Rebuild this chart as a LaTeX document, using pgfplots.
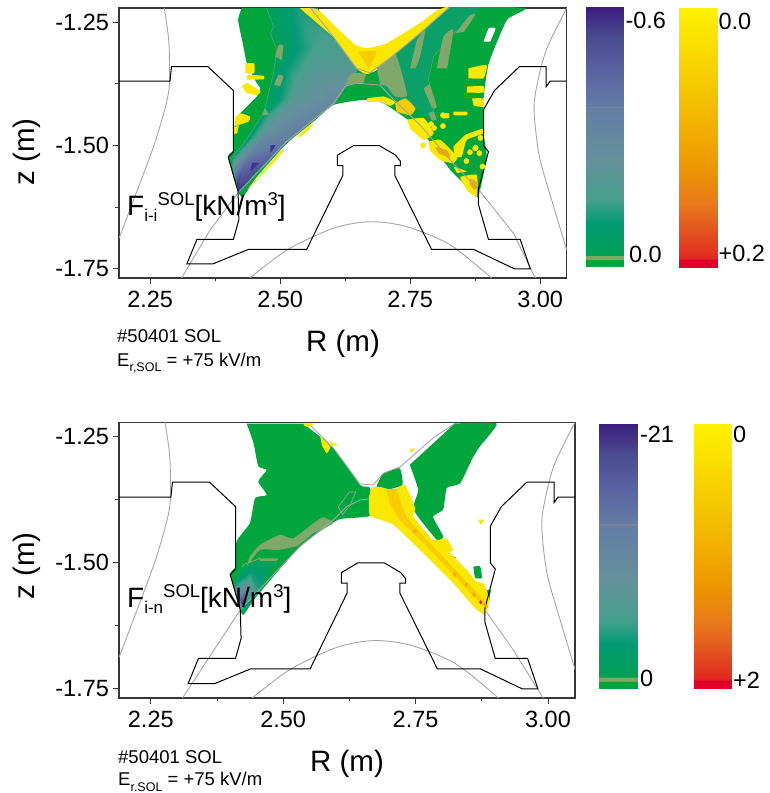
\documentclass[border=0pt]{standalone}
\usepackage{fontspec}
\setmainfont{Liberation Sans}
\usepackage{pgfplots}
\usepackage{pgfplotstable}
\pgfplotsset{compat=1.18}
\definecolor{gr}{RGB}{0,166,60}
\definecolor{tA}{RGB}{12,160,105}
\definecolor{tF}{RGB}{63,55,142}
\definecolor{ol}{RGB}{127,168,106}
\definecolor{ye}{RGB}{250,232,0}
\definecolor{yo}{RGB}{247,205,0}
\definecolor{og}{RGB}{243,170,0}
\definecolor{sep}{RGB}{165,165,165}
\definecolor{frm}{RGB}{55,55,55}
\definecolor{cont}{RGB}{95,165,135}
\newcommand{\poly}[2]{\addplot[fill=#1,draw=none,forget plot,smooth,tension=0.3] coordinates {#2} --cycle;}
\pgfplotstableread{
R z
2.19 -1.370
2.288 -1.370
2.291 -1.3405
2.361 -1.3405
2.410 -1.389
2.410 -1.513
2.400 -1.524
2.419 -1.594
2.4205 -1.651
2.410 -1.6905
2.340 -1.6905
2.3205 -1.7405
2.3705 -1.7405
2.439 -1.711
2.551 -1.711
2.6205 -1.561
2.6205 -1.541
2.610 -1.541
2.610 -1.520
2.641 -1.5007
2.691 -1.5007
2.722 -1.520
2.731 -1.532
2.731 -1.541
2.7205 -1.541
2.7205 -1.561
2.791 -1.711
2.872 -1.711
2.951 -1.7507
2.981 -1.7507
2.9615 -1.6905
2.9005 -1.6905
2.881 -1.619
2.881 -1.5905
2.9005 -1.513
2.891 -1.5007
2.891 -1.428
2.912 -1.389
2.960 -1.3405
3.0115 -1.3405
3.0115 -1.381
3.019 -1.370
3.051 -1.370
}\vessel
\pgfplotstableread{
R z
2.277 -1.221
2.285 -1.280
2.287 -1.327
2.285 -1.395
2.2596 -1.4926
2.218 -1.611
2.19 -1.6885
}\grayL
\pgfplotstableread{
R z
3.051 -1.222
3.0115 -1.307
2.992 -1.388
2.9885 -1.435
2.9985 -1.523
3.024 -1.6176
3.051 -1.712
}\grayR
\pgfplotstableread{
R z
2.441 -1.7696
2.5135 -1.712
2.6026 -1.668
2.673 -1.655
2.7436 -1.665
2.827 -1.702
2.907 -1.7696
}\grayA
\pgfplotstableread{
R z m
2.571 -1.222 -0.08
2.532 -1.222 -0.12
2.474 -1.222 -0.03
2.647 -1.345 -0.20
2.564 -1.300 -0.15
2.494 -1.307 -0.04
2.603 -1.415 -0.30
2.540 -1.390 -0.20
2.475 -1.420 -0.06
2.513 -1.489 -0.36
2.475 -1.470 -0.25
2.435 -1.490 -0.08
2.450 -1.557 -0.52
2.430 -1.540 -0.42
2.405 -1.528 -0.10
2.419 -1.594 -0.58
2.417 -1.575 -0.55
2.410 -1.550 -0.20
}\fanA
\pgfplotstableread{
R z m
2.490 -1.490 -0.5
2.455 -1.490 -0.5
2.425 -1.500 -0.5
2.465 -1.530 -3
2.440 -1.520 -4
2.410 -1.530 -2
2.450 -1.560 -5
2.430 -1.550 -9
2.408 -1.550 -5
2.425 -1.600 -1
2.423 -1.580 -20
2.418 -1.590 -5
}\fanB
\pgfplotsset{
  mainax/.style={
    at={(119pt,#1)},anchor=north west,scale only axis,
    xmin=2.19,xmax=3.051,ymin=-1.769,ymax=-1.2216,
    axis line style={frm,line width=1.1pt},
    tick style={frm,line width=0.8pt},
    tick align=outside,xtick pos=left,ytick pos=left,
    major tick length=6pt,minor tick length=3.5pt,
    xtick={2.25,2.5,2.75,3.0},xticklabels={2.25,2.50,2.75,3.00},
    ytick={-1.75,-1.5,-1.25},yticklabels={-1.75,-1.50,-1.25},
    minor xtick={2.375,2.625,2.875},minor ytick={-1.625,-1.375},
    tick label style={font=\fontsize{23.5}{25}\selectfont},
    xticklabel style={yshift=-4pt},yticklabel style={xshift=-0.5pt},
  },
  bar/.style={
    scale only axis,anchor=north west,xmin=0,xmax=1,
    view={0}{90},y dir=reverse,
    axis line style={draw=none},xtick=\empty,
    yticklabel pos=right,major tick length=0pt,
    tick label style={font=\fontsize{23.5}{25}\selectfont},
    yticklabel style={xshift=-2pt},
  },
  colormap={blu}{
    rgb255(0pt)=(58,30,126); rgb255(30pt)=(75,74,144); rgb255(60pt)=(88,96,160);
    rgb255(100pt)=(100,125,165); rgb255(153pt)=(100,145,155); rgb255(193pt)=(70,160,140);
    rgb255(216pt)=(0,155,115); rgb255(248pt)=(0,160,85); rgb255(249pt)=(128,168,96);
    rgb255(252pt)=(128,168,96); rgb255(253pt)=(0,166,60); rgb255(260pt)=(0,166,60)},
  colormap={yel}{
    rgb255(0pt)=(255,242,0); rgb255(60pt)=(247,210,0); rgb255(105pt)=(243,185,0);
    rgb255(160pt)=(237,150,0); rgb255(195pt)=(232,122,28); rgb255(225pt)=(226,80,32);
    rgb255(250pt)=(226,40,32); rgb255(252pt)=(226,0,42); rgb255(260pt)=(226,0,42)},
}
\newcommand{\vesselplots}{%
  \addplot[sep,line width=0.9pt,smooth] table {\grayL};
  \addplot[sep,line width=0.9pt,smooth] table {\grayR};
  \addplot[sep,line width=0.9pt,smooth] table {\grayA};
  \addplot[black,line width=1pt] table {\vessel};
}
\begin{document}
\begin{tikzpicture}[x=1pt,y=1pt]
\path[use as bounding box] (0,0) rectangle (769,793);
% ---------- top panel
\begin{axis}[mainax={785pt},width=447.7pt,height=270pt,colormap name=blu,point meta min=-0.6,point meta max=0]
\poly{gr}{(2.426,-1.222)(2.419,-1.246)(2.428,-1.293)(2.436,-1.334)(2.455,-1.374)(2.462,-1.385)(2.455,-1.401)(2.423,-1.435)(2.413,-1.455)(2.410,-1.510)(2.400,-1.523)(2.419,-1.594)(2.429,-1.604)(2.455,-1.564)(2.513,-1.496)(2.564,-1.452)(2.603,-1.418)(2.660,-1.408)(2.699,-1.415)(2.763,-1.462)(2.795,-1.503)(2.827,-1.550)(2.866,-1.591)(2.881,-1.604)(2.897,-1.523)(2.891,-1.476)(2.891,-1.408)(2.901,-1.334)(2.936,-1.246)(2.971,-1.222)(2.824,-1.221)(2.718,-1.317)(2.670,-1.351)(2.571,-1.222)}
\poly{white}{(2.891,-1.290)(2.901,-1.263)(2.914,-1.263)(2.904,-1.290)}
\poly{tA}{(2.824,-1.221)(2.885,-1.222)(2.840,-1.266)(2.795,-1.320)(2.785,-1.367)(2.798,-1.422)(2.788,-1.442)(2.756,-1.422)(2.712,-1.401)(2.692,-1.374)(2.686,-1.344)(2.718,-1.317)}
\addplot[surf,shader=interp,mesh/rows=6,mesh/cols=3,point meta=\thisrow{m}] table {\fanA};
\poly{tF}{(2.446,-1.536)(2.460,-1.536)(2.442,-1.553)}
\poly{tF}{(2.481,-1.500)(2.491,-1.500)(2.481,-1.516)}
\addplot[cont,line width=0.5pt] coordinates {(2.474,-1.222)(2.487,-1.259)(2.481,-1.273)(2.494,-1.307)(2.487,-1.354)(2.468,-1.435)(2.430,-1.496)(2.405,-1.528)};
\addplot[cont,line width=0.5pt] coordinates {(2.840,-1.266)(2.795,-1.320)(2.785,-1.367)(2.798,-1.422)(2.788,-1.442)};
\poly{ol}{(2.686,-1.344)(2.721,-1.314)(2.744,-1.398)(2.721,-1.401)(2.705,-1.380)(2.692,-1.377)}
\poly{ol}{(2.625,-1.377)(2.636,-1.355)(2.664,-1.355)(2.660,-1.374)}
\poly{ol}{(2.490,-1.320)(2.497,-1.297)(2.506,-1.297)(2.503,-1.327)}
\poly{ol}{(2.488,-1.378)(2.497,-1.357)(2.506,-1.361)(2.500,-1.380)}
\poly{ol}{(2.750,-1.344)(2.763,-1.287)(2.779,-1.266)(2.769,-1.320)(2.760,-1.344)}
\poly{ol}{(2.801,-1.344)(2.814,-1.280)(2.833,-1.266)(2.821,-1.344)}
\poly{ol}{(2.837,-1.273)(2.865,-1.236)(2.875,-1.236)(2.853,-1.270)}
\poly{ol}{(2.776,-1.385)(2.788,-1.378)(2.801,-1.422)(2.792,-1.425)}
\poly{ol}{(2.465,-1.439)(2.471,-1.425)(2.478,-1.439)}
\poly{ol}{(2.785,-1.435)(2.795,-1.432)(2.801,-1.448)(2.792,-1.450)}
\poly{ye}{(2.538,-1.222)(2.571,-1.224)(2.603,-1.256)(2.644,-1.296)(2.667,-1.303)(2.705,-1.293)(2.769,-1.252)(2.801,-1.227)(2.824,-1.221)(2.718,-1.317)(2.670,-1.355)(2.647,-1.344)(2.603,-1.281)}
\poly{yo}{(2.650,-1.310)(2.685,-1.310)(2.670,-1.345)}
% yellow blobs, left
\poly{ye}{(2.433,-1.334)(2.450,-1.334)(2.450,-1.354)(2.433,-1.354)}
\poly{ye}{(2.436,-1.357)(2.468,-1.359)(2.468,-1.366)(2.436,-1.367)}
\poly{ye}{(2.426,-1.381)(2.436,-1.374)(2.462,-1.391)(2.455,-1.398)(2.436,-1.394)}
\poly{ye}{(2.413,-1.445)(2.423,-1.435)(2.442,-1.442)(2.439,-1.452)(2.413,-1.461)}
\poly{ye}{(2.411,-1.465)(2.420,-1.459)(2.417,-1.476)(2.410,-1.476)}
\poly{ye}{(2.436,-1.590)(2.500,-1.513)(2.508,-1.510)(2.487,-1.536)(2.452,-1.574)}
\poly{ye}{(2.532,-1.483)(2.564,-1.452)(2.555,-1.469)(2.538,-1.483)}
% yellow blobs, right
\poly{ye}{(2.862,-1.344)(2.897,-1.337)(2.891,-1.364)(2.862,-1.364)}
\poly{ye}{(2.859,-1.381)(2.891,-1.380)(2.891,-1.393)(2.859,-1.393)}
\poly{ye}{(2.869,-1.405)(2.891,-1.405)(2.891,-1.422)(2.872,-1.420)}
\poly{yo}{(2.721,-1.415)(2.741,-1.405)(2.760,-1.425)(2.750,-1.439)(2.724,-1.432)}
\poly{ye}{(2.667,-1.405)(2.699,-1.401)(2.721,-1.412)(2.712,-1.420)(2.692,-1.412)(2.667,-1.412)}
\poly{ye}{(2.744,-1.448)(2.776,-1.445)(2.795,-1.476)(2.776,-1.489)(2.750,-1.466)}
\poly{ye}{(2.785,-1.493)(2.808,-1.489)(2.840,-1.523)(2.833,-1.536)(2.808,-1.530)(2.788,-1.510)}
\poly{ye}{(2.811,-1.435)(2.824,-1.435)(2.824,-1.445)(2.811,-1.445)}
\poly{ye}{(2.833,-1.432)(2.859,-1.432)(2.859,-1.439)(2.833,-1.439)}
\poly{ye}{(2.833,-1.503)(2.856,-1.479)(2.891,-1.466)(2.891,-1.476)(2.859,-1.489)(2.849,-1.523)(2.836,-1.523)}
\poly{ye}{(2.846,-1.564)(2.878,-1.560)(2.878,-1.604)(2.862,-1.594)(2.849,-1.574)}
\poly{ye}{(2.833,-1.543)(2.859,-1.553)(2.840,-1.556)}
\addplot[only marks,mark=*,mark size=2.6pt,color=ye,mark options={draw=none},forget plot] coordinates {(2.813,-1.439)(2.790,-1.457)(2.796,-1.465)(2.813,-1.461)(2.875,-1.506)(2.865,-1.514)(2.883,-1.516)(2.858,-1.532)(2.885,-1.485)(2.876,-1.505)(2.889,-1.543)(2.775,-1.500)};
\poly{og}{(2.798,-1.503)(2.821,-1.510)(2.827,-1.526)(2.804,-1.516)}
\poly{og}{(2.865,-1.567)(2.878,-1.574)(2.875,-1.591)(2.865,-1.580)}
% separatrix
\addplot[sep,line width=0.9pt] coordinates {(2.310,-1.770)(2.365,-1.672)(2.419,-1.596)(2.513,-1.492)(2.603,-1.415)(2.625,-1.380)(2.647,-1.374)(2.692,-1.378)(2.712,-1.401)(2.769,-1.459)(2.833,-1.537)(2.885,-1.594)(2.949,-1.679)(2.991,-1.770)};
\addplot[sep,line width=0.9pt] coordinates {(2.558,-1.221)(2.603,-1.281)(2.647,-1.344)(2.673,-1.353)(2.718,-1.317)(2.769,-1.273)(2.824,-1.221)};
\vesselplots
\end{axis}
% ---------- bottom panel
\begin{axis}[mainax={370.7pt},width=456pt,height=275.7pt,colormap name=blu,point meta min=-21,point meta max=0]
\poly{gr}{(2.431,-1.224)(2.444,-1.263)(2.453,-1.309)(2.469,-1.316)(2.453,-1.339)(2.469,-1.366)(2.447,-1.372)(2.437,-1.422)(2.412,-1.458)(2.410,-1.508)(2.400,-1.524)(2.419,-1.594)(2.425,-1.604)(2.450,-1.567)(2.532,-1.468)(2.604,-1.415)(2.664,-1.407)(2.664,-1.352)(2.645,-1.346)(2.595,-1.273)(2.538,-1.224)}
\poly{gr}{(2.676,-1.349)(2.689,-1.323)(2.720,-1.313)(2.725,-1.346)(2.695,-1.356)}
\poly{gr}{(2.824,-1.224)(2.903,-1.224)(2.871,-1.270)(2.856,-1.296)(2.834,-1.343)(2.809,-1.352)(2.802,-1.395)(2.783,-1.409)(2.802,-1.448)(2.790,-1.455)(2.746,-1.395)(2.755,-1.356)(2.739,-1.306)}
\poly{gr}{(2.859,-1.508)(2.872,-1.508)(2.875,-1.531)(2.862,-1.531)}
\poly{gr}{(2.808,-1.481)(2.827,-1.491)(2.815,-1.491)}
\poly{gr}{(2.885,-1.555)(2.892,-1.555)(2.888,-1.580)}
\addplot[surf,shader=interp,mesh/rows=4,mesh/cols=3,point meta=\thisrow{m}] table {\fanB};
\poly{ol}{(2.437,-1.488)(2.456,-1.465)(2.494,-1.445)(2.519,-1.452)(2.557,-1.422)(2.576,-1.410)(2.595,-1.422)(2.557,-1.442)(2.527,-1.467)(2.490,-1.475)(2.456,-1.475)(2.431,-1.508)}
\addplot[sep,line width=0.9pt] coordinates {(2.310,-1.769)(2.419,-1.594)(2.532,-1.468)(2.595,-1.415)(2.620,-1.389)(2.645,-1.376)(2.661,-1.374)};
\addplot[sep,line width=0.9pt] coordinates {(2.551,-1.227)(2.595,-1.273)(2.645,-1.344)(2.670,-1.346)(2.689,-1.323)(2.721,-1.310)(2.783,-1.253)(2.824,-1.224)};
\addplot[sep,line width=0.9pt] coordinates {(2.712,-1.401)(2.881,-1.594)(2.934,-1.673)(2.991,-1.769)};
\addplot[sep,line width=0.6pt] coordinates {(2.604,-1.390)(2.625,-1.360)(2.637,-1.360)(2.627,-1.385)(2.612,-1.405)(2.604,-1.390)};
\poly{ye}{(2.667,-1.350)(2.683,-1.350)(2.708,-1.356)(2.730,-1.346)(2.749,-1.392)(2.746,-1.409)(2.783,-1.455)(2.808,-1.452)(2.821,-1.475)(2.815,-1.481)(2.846,-1.514)(2.865,-1.538)(2.878,-1.541)(2.889,-1.574)(2.881,-1.604)(2.859,-1.587)(2.821,-1.541)(2.761,-1.478)(2.708,-1.425)(2.664,-1.407)(2.662,-1.369)}
\poly{yo}{(2.695,-1.356)(2.714,-1.356)(2.733,-1.409)(2.783,-1.468)(2.884,-1.581)(2.878,-1.587)(2.783,-1.481)(2.720,-1.415)(2.701,-1.382)}
\poly{ye}{(2.868,-1.415)(2.880,-1.415)(2.873,-1.425)}
\poly{ye}{(2.538,-1.224)(2.557,-1.224)(2.551,-1.230)(2.541,-1.230)}
\poly{ye}{(2.570,-1.250)(2.589,-1.270)(2.582,-1.283)(2.573,-1.267)}
\poly{ye}{(2.588,-1.260)(2.604,-1.267)(2.592,-1.268)}
\poly{ye}{(2.739,-1.276)(2.749,-1.273)(2.741,-1.283)}
\addplot[only marks,mark=diamond*,mark size=2.2pt,color=og,mark options={draw=none}] coordinates {(2.749,-1.438)(2.824,-1.524)(2.846,-1.544)(2.860,-1.564)(2.881,-1.585)};
\addplot[only marks,mark=diamond*,mark size=1.8pt,color={rgb,255:red,224;green,48;blue,32},mark options={draw=none}] coordinates {(2.873,-1.579)};
\vesselplots
\end{axis}
% ---------- colour bars
\begin{axis}[bar,at={(586pt,786pt)},width=38pt,height=260pt,ymin=-0.6,ymax=0,colormap name=blu,
  ytick={-0.57,-0.028},yticklabels={-0.6,\hspace*{3.5pt}0.0}]
\addplot3[surf,shader=interp,point meta=y,mesh/rows=2] coordinates {(0,-0.6,0)(1,-0.6,0)(0,0,0)(1,0,0)};
\addplot3[color={rgb,255:red,120;green,130;blue,155},line width=1.6pt] coordinates {(0,-0.368,0)(1,-0.368,0)};
\end{axis}
\begin{axis}[bar,at={(679pt,785pt)},width=38pt,height=260pt,ymin=0,ymax=0.2,colormap name=yel,
  ytick={0.01,0.189},yticklabels={0.0,+0.2}]
\addplot3[surf,shader=interp,point meta=y,mesh/rows=2] coordinates {(0,0,0)(1,0,0)(0,0.2,0)(1,0.2,0)};
\end{axis}
\begin{axis}[bar,at={(599pt,369.7pt)},width=39pt,height=265.4pt,ymin=-21,ymax=0,colormap name=blu,
  ytick={-20.15,-0.85},yticklabels={-21,0},yticklabel style={xshift=0.5pt}]
\addplot3[surf,shader=interp,point meta=y,mesh/rows=2] coordinates {(0,-21,0)(1,-21,0)(0,0,0)(1,0,0)};
\addplot3[color={rgb,255:red,120;green,130;blue,155},line width=1.6pt] coordinates {(0,-12.96,0)(1,-12.96,0)};
\end{axis}
\begin{axis}[bar,at={(694pt,369.7pt)},width=37pt,height=265.4pt,ymin=0,ymax=2,colormap name=yel,
  ytick={0.08,1.94},yticklabels={0,+2},yticklabel style={xshift=0.5pt}]
\addplot3[surf,shader=interp,point meta=y,mesh/rows=2] coordinates {(0,0,0)(1,0,0)(0,2,0)(1,2,0)};
\end{axis}
% ---------- text
\newcommand{\bigt}{\fontsize{29.5}{32}\selectfont}
\newcommand{\midt}{\fontsize{28}{30}\selectfont}
\newcommand{\smt}{\fontsize{18.5}{20}\selectfont}
\node[anchor=center,rotate=90,inner sep=0] at (27,641) {\bigt z (m)};
\node[anchor=center,rotate=90,inner sep=0] at (27,227) {\bigt z (m)};
\node[anchor=base,inner sep=0] at (343,441) {\bigt R (m)};
\node[anchor=base,inner sep=0] at (347,21) {\bigt R (m)};
\node[anchor=base west,inner sep=0] at (117,450) {\smt\#50401 SOL};
\node[anchor=base west,inner sep=0] at (117,426) {\smt E\raisebox{-5pt}{\fontsize{12.5}{13}\selectfont r,SOL} = +75 kV/m};
\node[anchor=base west,inner sep=0] at (118,30) {\smt\#50401 SOL};
\node[anchor=base west,inner sep=0] at (118,7) {\smt E\raisebox{-5pt}{\fontsize{12.5}{13}\selectfont r.SOL} = +75 kV/m};
\node[anchor=base west,inner sep=0] at (127,577) {\midt F\raisebox{-6pt}{\fontsize{17}{18}\selectfont i-i}\raisebox{10pt}{\fontsize{18.5}{19}\selectfont SOL}[kN/m\raisebox{10pt}{\fontsize{18.5}{19}\selectfont 3}]};
\node[anchor=base west,inner sep=0] at (127,185) {\midt F\raisebox{-6pt}{\fontsize{17}{18}\selectfont i-n}\raisebox{10pt}{\fontsize{18.5}{19}\selectfont SOL}[kN/m\raisebox{10pt}{\fontsize{18.5}{19}\selectfont 3}]};
\end{tikzpicture}
\end{document}
